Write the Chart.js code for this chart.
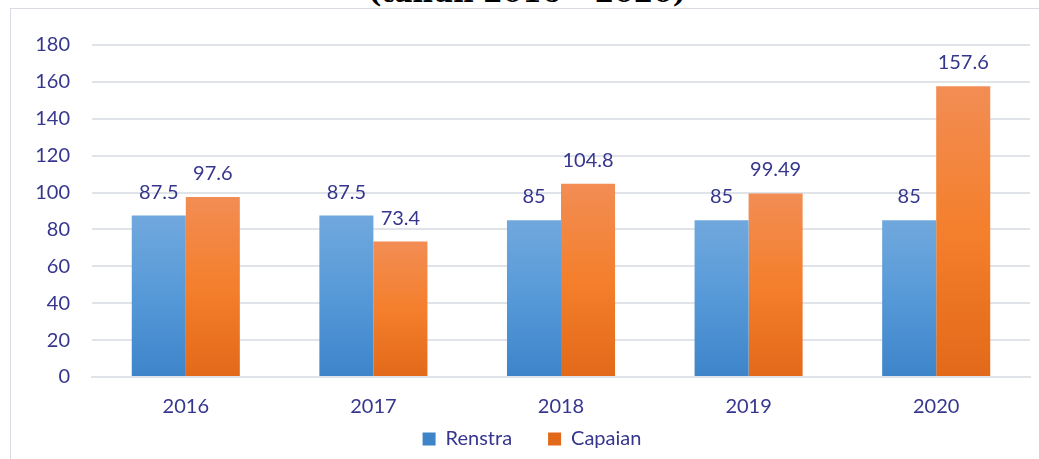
<!DOCTYPE html>
<html lang="id">
<head>
  <meta charset="UTF-8">
  <title>Renstra vs Capaian 2016 - 2020</title>
  <script src="https://cdn.jsdelivr.net/npm/chart.js"></script>
  <style>
    body {
      margin: 0;
      padding: 0;
      background: #ffffff;
      overflow: hidden;
    }
    #wrap {
      position: relative;
      width: 1039px;
      height: 459px;
      overflow: hidden;
    }
    #box {
      position: absolute;
      left: 10px;
      top: 8px;
      width: 1100px;
      height: 600px;
      border: 1px solid #d9dde3;
    }
    #title {
      position: absolute;
      left: 0;
      width: 1054px;
      top: -21px;
      text-align: center;
      font: bold 28px "DejaVu Serif", serif;
      line-height: 28px;
      color: #000;
    }
    #chart-container {
      position: absolute;
      left: 0;
      top: 0;
      width: 1039px;
      height: 459px;
    }
  </style>
</head>
<body>
  <div id="wrap">
    <div id="box"></div>
    <div id="title">(tahun 2016 – 2020)</div>
    <div id="chart-container">
      <canvas id="barChart"></canvas>
    </div>
  </div>

  <script>
    // data
    const years = ['2016', '2017', '2018', '2019', '2020'];
    const renstra = [87.5, 87.5, 85, 85, 85];
    const capaian = [97.6, 73.4, 104.8, 99.49, 157.6];

    const textColor = '#36368f';
    const gridColor = '#e0e3e8';

    // gradient for each bar, light at the top, darker at the base
    function barGradient(light, mid, dark) {
      return function(context) {
        const chart = context.chart;
        if (!chart.chartArea || context.raw == null) return mid;
        const y = chart.scales.y;
        const top = y.getPixelForValue(context.raw);
        const bottom = y.getPixelForValue(0);
        const g = chart.ctx.createLinearGradient(0, top, 0, bottom);
        g.addColorStop(0, light);
        g.addColorStop(0.5, mid);
        g.addColorStop(1, dark);
        return g;
      };
    }

    // values above the bars
    const valueLabels = {
      id: 'valueLabels',
      afterDatasetsDraw(chart) {
        const ctx = chart.ctx;
        ctx.save();
        ctx.font = '20px Lato';
        ctx.fillStyle = textColor;
        ctx.textAlign = 'center';
        ctx.textBaseline = 'alphabetic';
        chart.data.datasets.forEach((ds, i) => {
          chart.getDatasetMeta(i).data.forEach((bar, j) => {
            ctx.fillText(String(ds.data[j]), bar.x, bar.y - 17);
          });
        });
        ctx.restore();
      }
    };

    new Chart(document.getElementById('barChart'), {
      type: 'bar',
      data: {
        labels: years,
        datasets: [
          {
            label: 'Renstra',
            data: renstra,
            backgroundColor: barGradient('#70a8dd', '#5699d8', '#3d84c9'),
            borderWidth: 0
          },
          {
            label: 'Capaian',
            data: capaian,
            backgroundColor: barGradient('#f28d54', '#f47f2c', '#e26919'),
            borderWidth: 0
          }
        ]
      },
      options: {
        responsive: true,
        maintainAspectRatio: false,
        animation: false,
        categoryPercentage: 0.576,
        barPercentage: 1,
        layout: {
          padding: { left: 34, right: 9, top: 45, bottom: 0 }
        },
        scales: {
          x: {
            grid: { display: false, drawTicks: false },
            border: { display: true, color: gridColor, width: 2 },
            ticks: {
              color: textColor,
              font: { family: 'Lato', size: 20 },
              padding: 18
            },
            // squeeze the axis so the legend sits close, and let the labels draw past it
            afterFit(scale) {
              scale.height = 16;
              scale._computeLabelArea = function() { return undefined; };
            }
          },
          y: {
            min: 0,
            max: 180,
            ticks: {
              stepSize: 20,
              color: textColor,
              font: { family: 'Lato', size: 20 },
              padding: 22
            },
            grid: { color: gridColor, lineWidth: 2, drawTicks: false },
            border: { display: false },
            afterFit(scale) { scale.width = 58; }
          }
        },
        plugins: {
          legend: {
            position: 'bottom',
            labels: {
              color: textColor,
              font: { family: 'Lato', size: 20 },
              boxWidth: 13,
              boxHeight: 13,
              padding: 36
            }
          },
          tooltip: { enabled: false }
        }
      },
      plugins: [valueLabels]
    });
  </script>
</body>
</html>
